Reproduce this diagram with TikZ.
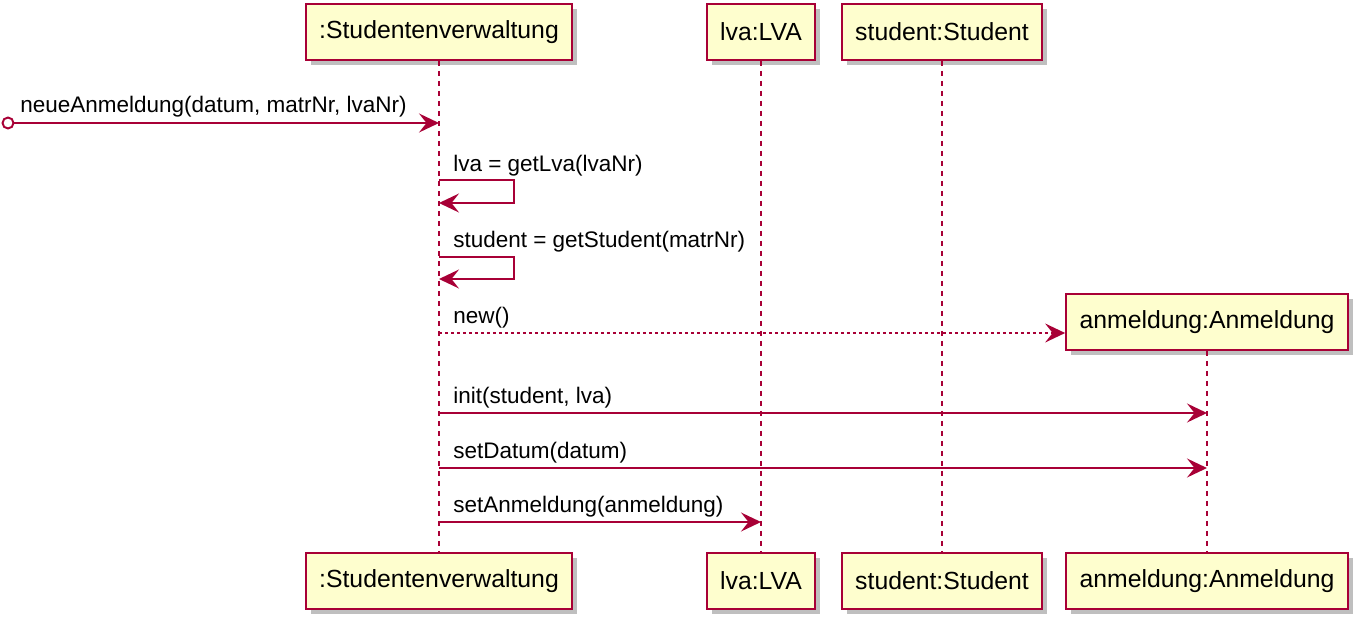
\documentclass[tikz,border=0pt]{standalone}
\usepackage{fontspec}
\setmainfont{Liberation Sans}
\usetikzlibrary{arrows.meta}
\usetikzlibrary{positioning}
\usetikzlibrary{shadows}

\definecolor{umlred}{HTML}{A80036}
\definecolor{umlfill}{HTML}{FEFECE}

\begin{document}
\begin{tikzpicture}[x=0.02cm,y=-0.02cm,
    participant/.style={draw=umlred,fill=umlfill,line width=1.1pt,
      minimum height=1.12cm,inner xsep=0.27cm,
      font=\fontsize{14.1}{16}\selectfont,
      drop shadow={shadow xshift=0.1cm,shadow yshift=-0.1cm,fill=black,opacity=0.25}},
    lifeline/.style={draw=umlred,line width=0.9pt,dash pattern=on 0.1cm off 0.1cm},
    msg/.style={draw=umlred,line width=0.9pt,
      -{Stealth[length=0.4cm,width=0.38cm,inset=0.15cm]}},
    reply/.style={msg,dash pattern=on 0.06cm off 0.06cm},
    msglabel/.style={anchor=base west,inner sep=0pt,
      font=\fontsize{12.8}{15}\selectfont}]

  \useasboundingbox (0,0) rectangle (1356,619);

  % participants
  \node [participant] (svTop)  at (439,32)   {:Studentenverwaltung};
  \node [participant] (lvaTop) at (761,32)   {lva:LVA};
  \node [participant] (stTop)  at (942,32)   {student:Student};
  \node [participant] (anNew)  at (1207,322) {anmeldung:Anmeldung};

  \node [participant] (svBot)  at (439,581)  {:Studentenverwaltung};
  \node [participant] (lvaBot) at (761,581)  {lva:LVA};
  \node [participant] (stBot)  at (942,581)  {student:Student};
  \node [participant] (anBot)  at (1207,581) {anmeldung:Anmeldung};

  % lifelines
  \path [lifeline]
    (svTop.south)  -- (svBot.north)
    (lvaTop.south) -- (lvaBot.north)
    (stTop.south)  -- (stBot.north)
    (anNew.south)  -- (anBot.north);

  % message rows
  \coordinate (m1) at (0,123);
  \coordinate (m2) at (0,180);
  \coordinate (m3) at (0,257);
  \coordinate (m4) at (0,333);
  \coordinate (m5) at (0,413);
  \coordinate (m6) at (0,468);
  \coordinate (m7) at (0,522);

  \node [circle,draw=umlred,fill=white,line width=1.1pt,inner sep=0pt,
    minimum size=0.22cm] (found) at (8,123) {};
  \draw [msg] (found) -- (svTop |- m1);
  \node [msglabel] (lblNeue) at (20,112) {neueAnmeldung(datum, matrNr, lvaNr)};

  \draw [msg] (svTop |- m2) -- ++(75,0) -- ++(0,23) -- ++(-75,0);
  \node [msglabel] (lblLva) at (453,171) {lva = getLva(lvaNr)};

  \draw [msg] (svTop |- m3) -- ++(75,0) -- ++(0,22) -- ++(-75,0);
  \node [msglabel] (lblStudent) at (453,247) {student = getStudent(matrNr)};

  \draw [reply] (svTop |- m4) -- (anNew.west |- m4);
  \node [msglabel] (lblNew) at (453,323) {new()};

  \draw [msg] (svTop |- m5) -- (anBot |- m5);
  \node [msglabel] (lblInit) at (453,403) {init(student, lva)};

  \draw [msg] (svTop |- m6) -- (anBot |- m6);
  \node [msglabel] (lblDatum) at (453,458) {setDatum(datum)};

  \draw [msg] (svTop |- m7) -- (lvaBot |- m7);
  \node [msglabel] (lblSetAnm) at (453,512) {setAnmeldung(anmeldung)};

\end{tikzpicture}
\end{document}
